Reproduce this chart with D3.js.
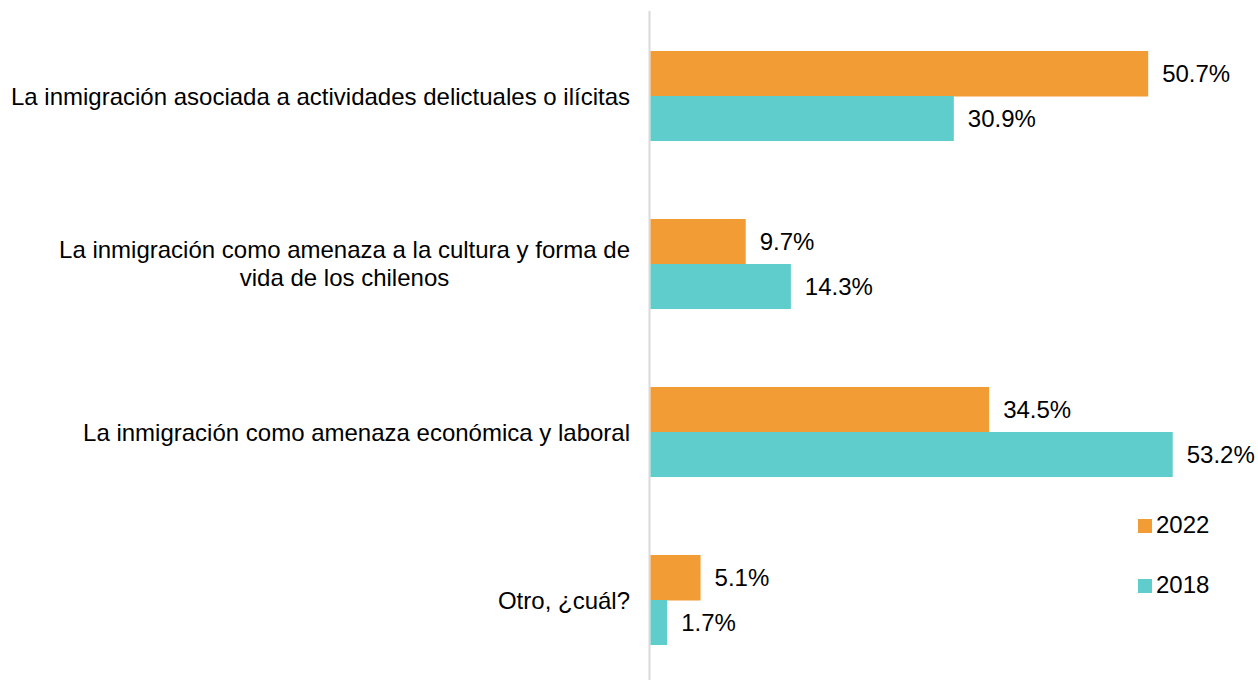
<!DOCTYPE html>
<html><head><meta charset="utf-8">
<script src="https://cdn.jsdelivr.net/npm/d3@7"></script>
<style>body{margin:0;background:#fff}svg{display:block}text{font-family:"Liberation Sans",Arial,sans-serif;fill:#000}</style>
</head><body>
<svg id="c" width="1258" height="680"></svg>
<script>
const categories = [
  ["La inmigración asociada a actividades delictuales o ilícitas"],
  ["La inmigración como amenaza a la cultura y forma de", "vida de los chilenos"],
  ["La inmigración como amenaza económica y laboral"],
  ["Otro, ¿cuál?"]
];
const series = ["2022", "2018"];
const values2022 = [50.7, 9.7, 34.5, 5.1];
const values2018 = [30.9, 14.3, 53.2, 1.7];
const colors = ["#F19C35", "#5ECDCB"];

const svg = d3.select("#c");
const x0 = 650.5;
const FS = 24;
const x = d3.scaleLinear().domain([0, 10]).range([x0, x0 + 98.16]);
const y = d3.scaleBand().domain(d3.range(categories.length)).range([12, 684]).paddingInner(0.464).paddingOuter(0.232);
const ySub = d3.scaleBand().domain(series).range([0, y.bandwidth()]);

const data = [values2022, values2018];

// axis line
svg.append("line").attr("x1", 649.5).attr("x2", 649.5).attr("y1", 11).attr("y2", 680)
  .attr("stroke", "#d9d9d9").attr("stroke-width", 2);

categories.forEach((cat, i) => {
  const g = svg.append("g").attr("transform", `translate(0,${y(i)})`);
  series.forEach((s, j) => {
    const v = data[j][i];
    g.append("rect").attr("x", x(0)).attr("y", ySub(s)).attr("width", x(v) - x(0))
      .attr("height", ySub.bandwidth() + (j === 0 ? 0.5 : 0)).attr("fill", colors[j]);
    g.append("text").attr("x", x(v) + 14).attr("y", ySub(s) + ySub.bandwidth() / 2 + 8.5)
      .attr("font-size", FS).text(v.toFixed(1) + "%");
  });
  // category label
  const cy = y(i) + y.bandwidth() / 2;
  const lh = 28;
  const n = cat.length;
  const t = svg.append("text").attr("font-size", FS).attr("text-anchor", "end");
  if (n === 1) {
    t.attr("x", 630).attr("y", cy + 8.5).text(cat[0]);
  } else {
    const tmp = svg.append("text").attr("font-size", FS).text(cat[0]);
    const w = tmp.node().getComputedTextLength();
    tmp.remove();
    t.attr("text-anchor", "middle");
    cat.forEach((line, k) => {
      t.append("tspan").attr("x", 630 - w / 2).attr("y", cy + 8 + (k - (n - 1) / 2) * lh).text(line);
    });
  }
});

// legend
series.forEach((s, j) => {
  const ly = 519 + j * 60;
  svg.append("rect").attr("x", 1138).attr("y", ly).attr("width", 14).attr("height", 14).attr("fill", colors[j]);
  svg.append("text").attr("x", 1156).attr("y", ly + 14).attr("font-size", FS).text(s);
});
</script>
</body></html>
